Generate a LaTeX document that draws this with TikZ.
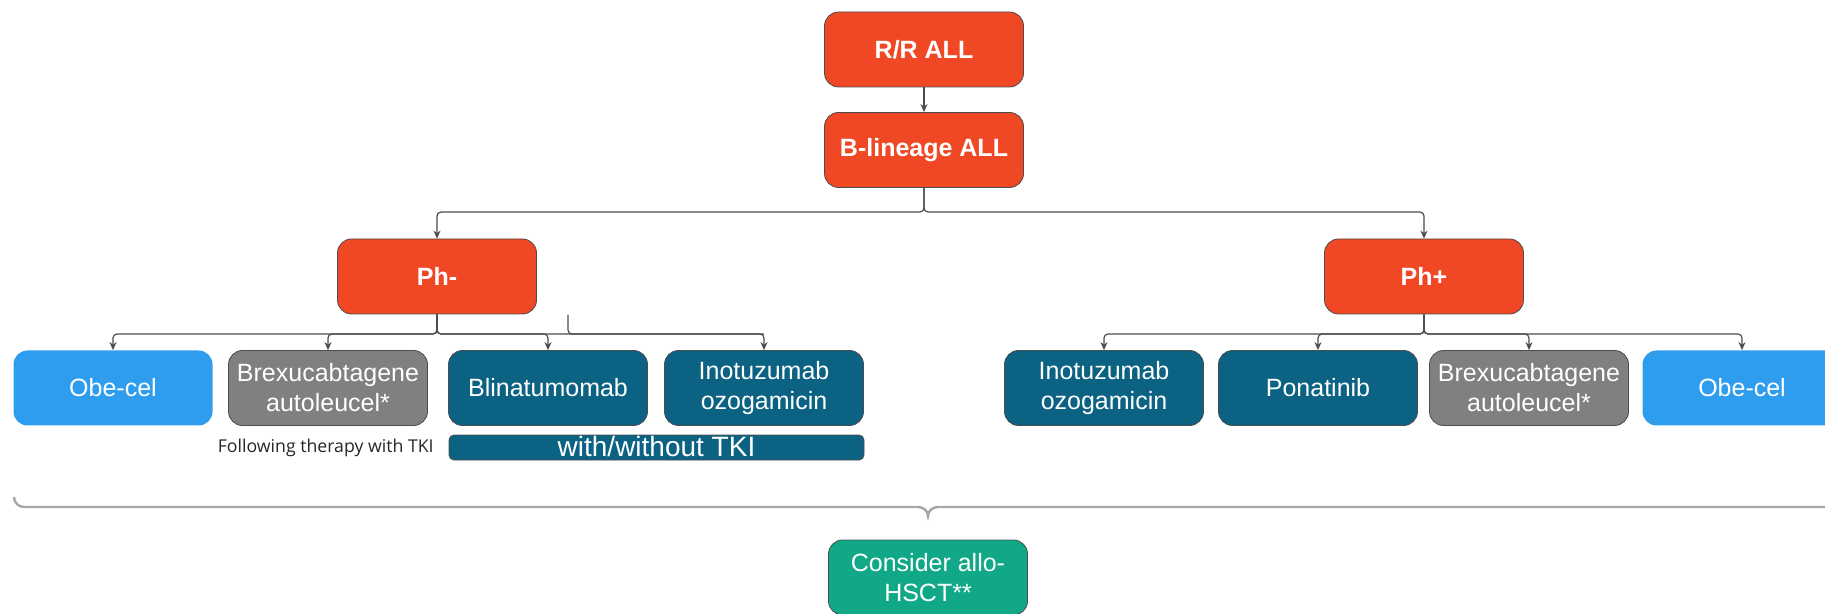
\documentclass[tikz,border=0pt]{standalone}
\usepackage{fontspec}
\setmainfont{Liberation Sans}
\newfontfamily\notefont{Open Sans}
\usetikzlibrary{arrows.meta}

\definecolor{phred}{RGB}{240,72,36}
\definecolor{drugteal}{RGB}{11,98,130}
\definecolor{carblue}{RGB}{47,157,238}
\definecolor{cargray}{RGB}{128,128,128}
\definecolor{hsctgreen}{RGB}{16,168,135}
\definecolor{bracegray}{RGB}{166,166,166}

\newcommand{\boxwidth}{99.5pt}
\newcommand{\boxheight}{37.5pt}
\newcommand{\boxfont}{\fontsize{12.5}{15}\selectfont}

\tikzset{
    tbox/.style={draw=black!70, rounded corners=7pt, minimum width=\boxwidth,
        minimum height=\boxheight, text=white, align=center, inner sep=1pt,
        font=\boxfont},
    redbox/.style={tbox, fill=phred, font=\boxfont\bfseries},
    tealbox/.style={tbox, fill=drugteal},
    bluebox/.style={tbox, draw=none, fill=carblue},
    graybox/.style={tbox, fill=cargray},
    greenbox/.style={tbox, fill=hsctgreen},
    conn/.style={draw=black!70, line width=0.6pt, rounded corners=2pt,
        -{Stealth[length=4pt,width=3.5pt]}},
}

\begin{document}
\begin{tikzpicture}[x=0.5pt,y=-0.5pt]
\useasboundingbox (0,0) rectangle (1825,614);
\clip (0,0) rectangle (1825,614);

% rows where the connectors split
\coordinate (jtop) at (0,212);
\coordinate (jrow) at (0,334);
\coordinate (stub) at (568,315);

% top of the tree
\node[redbox] (rr) at (924,49.5) {R/R ALL};
\node[redbox] (blin) at (924,150) {B-lineage ALL};
\node[redbox] (phneg) at (437,276.5) {Ph-};
\node[redbox] (phpos) at (1424,276.5) {Ph+};

% Ph- options
\node[bluebox] (obeneg) at (113,388) {Obe-cel};
\node[graybox] (brexneg) at (328,388) {Brexucabtagene\\autoleucel*};
\node[tealbox] (blina) at (548,388) {Blinatumomab};
\node[tealbox] (inoneg) at (764,388) {Inotuzumab\\ozogamicin};

\node[draw=black!70, fill=drugteal, rounded corners=2.5pt, inner sep=0pt,
    minimum width=207.5pt, text height=10.5pt, text depth=2pt, text=white,
    font=\fontsize{14}{14}\selectfont] (tki) at (656.5,447.5) {with/without TKI};
\node[anchor=east, inner sep=0pt, font=\notefont\fontsize{8.85}{9}\selectfont,
    text=black!85] (note) at (434,448) {Following therapy with TKI};

% Ph+ options
\node[tealbox] (inopos) at (1104,388) {Inotuzumab\\ozogamicin};
\node[tealbox] (pona) at (1318,388) {Ponatinib};
\node[graybox] (brexpos) at (1529,388) {Brexucabtagene\\autoleucel*};
\node[bluebox] (obepos) at (1742,388) {Obe-cel};

\node[greenbox] (hsct) at (928,577.5) {Consider allo-\\HSCT**};

% connectors
\draw[conn] (rr) -- (blin);
\foreach \ph in {phneg, phpos}
    \draw[conn] (blin.south) -- (blin.south |- jtop) -| (\ph.north);
\foreach \kid in {obeneg, brexneg, blina, inoneg}
    \draw[conn] (phneg.south) -- (phneg.south |- jrow) -| (\kid.north);
\foreach \kid in {inopos, pona, brexpos, obepos}
    \draw[conn] (phpos.south) -- (phpos.south |- jrow) -| (\kid.north);
\draw[draw=black!70, line width=0.6pt, rounded corners=2pt] (stub) |- (inoneg.north |- jrow);

% brace over all options
\draw[bracegray, line width=1.2pt] (14,497) to[out=-90,in=180] (24,507) -- (918,507)
    to[out=0,in=90] (928,516) to[out=90,in=180] (938,507) -- (1840,507);

\end{tikzpicture}
\end{document}
